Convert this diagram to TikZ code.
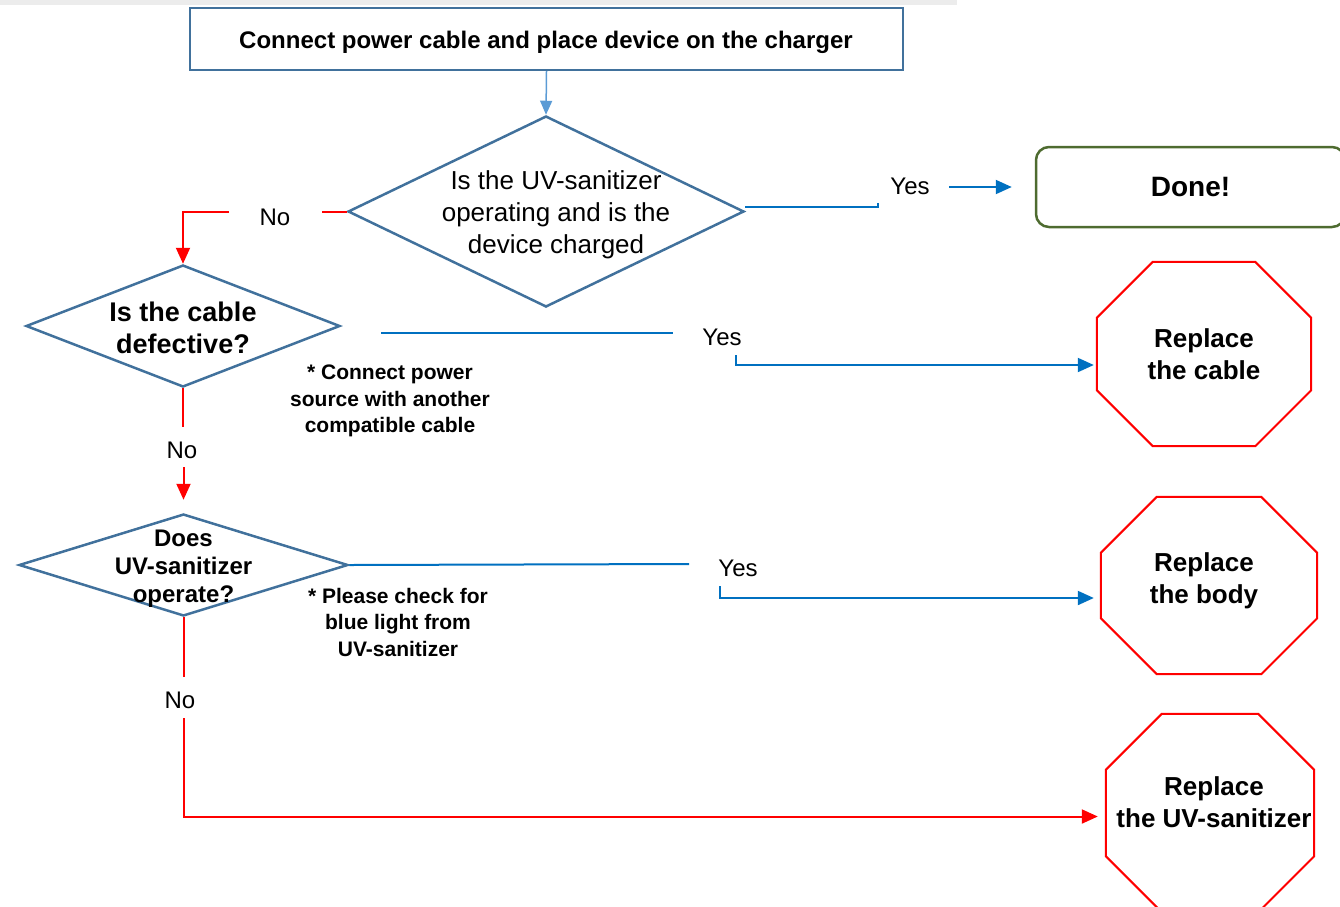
\documentclass[tikz,border=0pt]{standalone}
\usepackage{fontspec}
\setmainfont{Liberation Sans}
\usetikzlibrary{shapes.geometric,arrows.meta,calc,positioning}
\definecolor{boxblue}{HTML}{41719C}
\definecolor{feedblue}{HTML}{5B9BD5}
\definecolor{yesblue}{HTML}{0070C0}
\definecolor{nored}{HTML}{FF0000}
\definecolor{donegreen}{HTML}{4E6B30}
\definecolor{bandgrey}{HTML}{ECECEC}
\tikzset{
startbox/.style={draw=boxblue, line width=2pt, minimum width=713pt, minimum height=62pt, inner sep=0pt},
decision/.style={diamond, draw=boxblue, line width=2.5pt, inner sep=0pt}, % text goes in as a label
dtext/.style={align=center, inner sep=0pt},
donebox/.style={draw=donegreen, line width=2.5pt, rounded corners=13pt, minimum width=309pt, minimum height=80pt, font=\bfseries\fontsize{28}{32}\selectfont},
stopsign/.style={align=center, inner sep=0pt, font=\bfseries\fontsize{26}{32}\selectfont},
stopline/.style={nored, line width=2pt},
hint/.style={align=center, inner sep=0pt, font=\bfseries\fontsize{21}{26.5}\selectfont},
answer/.style={inner sep=1pt, font=\fontsize{24}{28}\selectfont},
yesline/.style={yesblue, line width=2pt},
noline/.style={nored, line width=2pt},
tip/.style={-{Triangle[length=16pt,width=14pt]}},
}
% octagon round a (blank) node, corners cut by 56pt
\newcommand{\octagon}[1]{
  \draw[stopline] ([xshift=56pt]#1.north west) -- ([xshift=-56pt]#1.north east)
    -- ([yshift=-56pt]#1.north east) -- ([yshift=56pt]#1.south east)
    -- ([xshift=-56pt]#1.south east) -- ([xshift=56pt]#1.south west)
    -- ([yshift=56pt]#1.south west) -- ([yshift=-56pt]#1.north west) -- cycle;
}

\begin{document}
\begin{tikzpicture}[x=1pt,y=-1pt]
\useasboundingbox (0,0) rectangle (1340,906);
\fill[bandgrey] (0,0) rectangle (957,5);

% boxes
\node[startbox] (start) at (546.5,39) {};
\node[font=\bfseries\fontsize{24}{28}\selectfont] (starttext) at (546,42) {Connect power cable and place device on the charger};
\node[decision, minimum width=396pt, minimum height=191pt,
  label={[dtext, xshift=10pt, yshift=-3pt, font=\fontsize{26}{32}\selectfont]center:Is the UV-sanitizer\\operating and is the\\device charged}] (d1) at (546,211.5) {};
\node[donebox] (done) at (1190.5,187) {Done!};
\node[decision, minimum width=314pt, minimum height=122pt,
  label={[dtext, font=\bfseries\fontsize{27}{32}\selectfont, yshift=-2pt]center:Is the cable\\defective?}] (d2) at (183,326) {};
\node[decision, minimum width=329pt, minimum height=102pt,
  label={[dtext, font=\bfseries\fontsize{24}{28}\selectfont, yshift=-4pt]center:Does\\UV-sanitizer\\operate?}] (d3) at (183.5,565) {};

% stop signs
\node[stopsign, minimum width=214pt, minimum height=184pt] (cable) at (1204,354) {Replace\\the cable};
\node[stopsign, minimum width=216pt, minimum height=177pt] (body) at (1209,585.5) {};
\node[stopsign] (bodytext) at (1204,581) {Replace\\the body};
\node[stopsign, minimum width=208pt, minimum height=198pt] (uv) at (1210,813) {};
\node[stopsign] (uvtext) at (1214,802) {Replace\\the UV-sanitizer};
\octagon{cable}
\octagon{body}
\octagon{uv}

% hints
\node[hint] (hint1) at (390,401) {* Connect power\\source with another\\compatible cable};
\node[hint] (hint2) at (398,622) {* Please check for\\blue light from\\UV-sanitizer};

% answers
\node[answer] (yes1) at (910,186) {Yes};
\node[answer] (no1) at (275,217) {No};
\node[answer] (yes2) at (722,337) {Yes};
\node[answer] (no2) at (182,450) {No};
\node[answer] (yes3) at (738,568) {Yes};
\node[answer] (no3) at (180,700) {No};

\coordinate (y1a) at (878,203);
\coordinate (y1b) at (949,187);
\coordinate (n1a) at (322,211.5);
\coordinate (n1b) at (229,211.5);
\coordinate (y2a) at (381,333);
\coordinate (y2b) at (673,333);
\coordinate (y2c) at (736,355);
\coordinate (n2a) at (183,427);
\coordinate (n2b) at (183.5,467);
\coordinate (y3a) at (689,564);
\coordinate (y3b) at (720,586);
\coordinate (n3a) at (183.5,677);
\coordinate (n3b) at (183.5,718);

% connectors
\draw[feedblue, line width=1.5pt, -{Triangle[length=14pt,width=12pt]}] (start.south) -- (d1.north);
\draw[yesline] ([yshift=5pt]d1.east) -| (y1a);
\draw[yesline, tip] (y1b) -- ([xshift=-23pt]done.west);
\draw[noline] (d1.west) -- (n1a);
\draw[noline, tip] (n1b) -| (d2.north);
\draw[yesline] (y2a) -- (y2b);
\draw[yesline, tip, shorten >=3pt] (y2c) |- ([yshift=-11pt]cable.west);
\draw[noline] (d2.south) -- (n2a);
\draw[noline, tip] (n2b) -- ([yshift=13pt]d3.north);
\draw[yesline] (d3.east) -- (y3a);
\draw[yesline, tip, shorten >=7pt] (y3b) |- ([yshift=-12.5pt]body.west);
\draw[noline] (d3.south) -- (n3a);
\draw[noline, tip, shorten >=8pt] (n3b) |- ([yshift=-3.5pt]uv.west);
\end{tikzpicture}
\end{document}
